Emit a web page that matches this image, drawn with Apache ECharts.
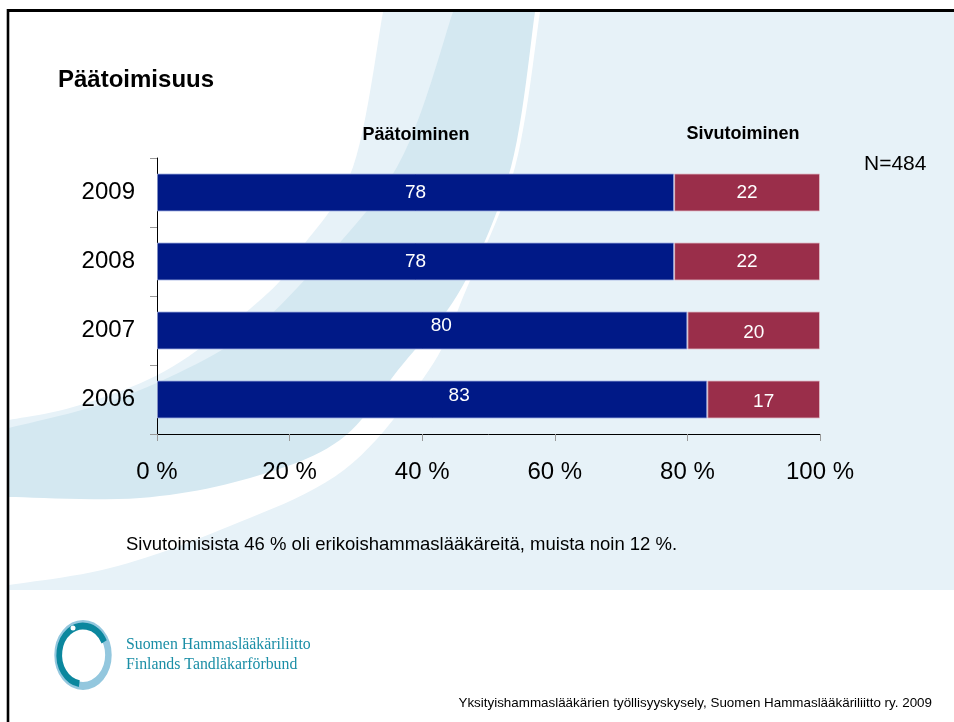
<!DOCTYPE html>
<html>
<head>
<meta charset="utf-8">
<script src="https://cdn.jsdelivr.net/npm/echarts@6/dist/echarts.min.js"></script>
<style>
  html, body { margin: 0; padding: 0; background: #fff; }
  #chart { width: 954px; height: 722px; }
</style>
</head>
<body>
<div id="chart"></div>
<script>
// data
const years = ['2006', '2007', '2008', '2009'];
const paatoiminen = [83, 80, 78, 78];   // full-time %
const sivutoiminen = [17, 20, 22, 22];  // part-time %
const seriesNames = ['Päätoiminen', 'Sivutoiminen'];
const xTickStep = 20;

// the slide's value labels sit a little off-centre on some bars
const fullLabelShift = [[27, -4], [19, -5], [0, 0], [0, 0]];
const partLabelShift = [[0, 2], [0, 2], [0, 0], [0, 0]];

// background swooshes (decoration only), as smooth curves through a few points
function catmull(pts, steps) {
  const out = [];
  for (let i = 0; i < pts.length - 1; i++) {
    const p0 = pts[i - 1] || pts[i], p1 = pts[i], p2 = pts[i + 1], p3 = pts[i + 2] || pts[i + 1];
    for (let s = 0; s < steps; s++) {
      const t = s / steps, t2 = t * t, t3 = t2 * t;
      const f = (a, b, c, d) => 0.5 * ((2 * b) + (-a + c) * t + (2 * a - 5 * b + 4 * c - d) * t2 + (-a + 3 * b - 3 * c + d) * t3);
      out.push([f(p0[0], p1[0], p2[0], p3[0]), f(p0[1], p1[1], p2[1], p3[1])]);
    }
  }
  out.push(pts[pts.length - 1]);
  return out;
}
function region(curve, fill) {
  const pts = [[9, 12]].concat(catmull(curve, 12));
  return { type: 'polygon', silent: true, z: -10, shape: { points: pts }, style: { fill: fill } };
}
const curveOut = [[540, 12], [515, 167], [466, 290], [429, 370], [344, 470], [220, 530], [110, 568], [9, 585]];
const curveDisc = [[535, 12], [511, 167], [462, 287], [398, 370], [340, 440], [250, 478], [140, 498], [9, 497]];
const curveStripIn = [[453, 12], [397, 167], [298, 287], [230, 345], [120, 398], [9, 428]];
const curveStripOut = [[383, 12], [353, 167], [300, 250], [268, 293], [172, 367], [80, 405], [9, 420]];

const sans = 'Liberation Sans, Arial, sans-serif';
const serif = 'Liberation Serif, Times New Roman, serif';

function withShift(values, shifts) {
  return values.map((v, i) => ({ value: v, label: { offset: shifts[i] } }));
}

const chart = echarts.init(document.getElementById('chart'));
const option = {
  animation: false,
  textStyle: { fontFamily: sans },
  title: {
    text: 'Päätoimisuus',
    left: 58,
    top: 68,
    padding: 0,
    textStyle: { fontSize: 24, fontWeight: 'bold', color: '#000' }
  },
  grid: { left: 157, right: 134, top: 158, bottom: 288 },
  xAxis: {
    type: 'value',
    min: 0,
    max: 100,
    interval: xTickStep,
    axisLine: { show: true, lineStyle: { color: '#000', width: 1 } },
    axisTick: { show: true, length: 7, lineStyle: { color: '#999' } },
    splitLine: { show: false },
    axisLabel: { formatter: '{value} %', fontSize: 24, color: '#000', margin: 26 }
  },
  yAxis: {
    type: 'category',
    data: years,
    axisLine: { show: true, lineStyle: { color: '#000', width: 1 } },
    axisTick: { show: true, length: 7, lineStyle: { color: '#999' } },
    axisLabel: { fontSize: 24, color: '#000', margin: 22 }
  },
  series: [
    {
      name: seriesNames[0],
      type: 'bar',
      stack: 'total',
      barWidth: 38,
      data: withShift(paatoiminen, fullLabelShift),
      itemStyle: { color: '#001987', borderColor: 'rgba(160,175,225,0.8)', borderWidth: 1 },
      label: { show: true, position: 'inside', color: '#fff', fontSize: 19 }
    },
    {
      name: seriesNames[1],
      type: 'bar',
      stack: 'total',
      barWidth: 38,
      data: withShift(sivutoiminen, partLabelShift),
      itemStyle: { color: '#9a2e4a', borderColor: 'rgba(225,190,200,0.8)', borderWidth: 1 },
      label: { show: true, position: 'inside', color: '#fff', fontSize: 19 }
    }
  ],
  graphic: [
    // slide background
    { type: 'rect', silent: true, z: -10, shape: { x: 9, y: 12, width: 945, height: 578 }, style: { fill: '#e7f2f8' } },
    region(curveOut, '#ffffff'),
    region(curveDisc, '#d4e8f1'),
    region(curveStripIn, '#e7f2f8'),
    region(curveStripOut, '#ffffff'),
    // slide frame
    { type: 'line', silent: true, z: 5, shape: { x1: 7, y1: 10.5, x2: 954, y2: 10.5 }, style: { stroke: '#000', lineWidth: 3 } },
    { type: 'line', silent: true, z: 5, shape: { x1: 8, y1: 9, x2: 8, y2: 722 }, style: { stroke: '#000', lineWidth: 2.6 } },
    // column headers
    { type: 'text', x: 416, y: 135, style: { text: seriesNames[0], fontSize: 18, fontWeight: 'bold', fill: '#000', align: 'center', verticalAlign: 'middle', fontFamily: sans } },
    { type: 'text', x: 743, y: 134, style: { text: seriesNames[1], fontSize: 18, fontWeight: 'bold', fill: '#000', align: 'center', verticalAlign: 'middle', fontFamily: sans } },
    { type: 'text', x: 864, y: 164, style: { text: 'N=484', fontSize: 21, fill: '#000', align: 'left', verticalAlign: 'middle', fontFamily: sans } },
    // footnote
    { type: 'text', x: 126, y: 545, style: { text: 'Sivutoimisista 46 % oli erikoishammaslääkäreitä, muista noin 12 %.', fontSize: 18.5, fill: '#000', align: 'left', verticalAlign: 'middle', fontFamily: sans } },
    { type: 'text', x: 932, y: 703, style: { text: 'Yksityishammaslääkärien työllisyyskysely, Suomen Hammaslääkäriliitto ry. 2009', fontSize: 13.4, fill: '#000', align: 'right', verticalAlign: 'middle', fontFamily: sans } },
    // logo
    { type: 'circle', silent: true, x: 83, y: 655, scaleX: 0.82, scaleY: 1, shape: { cx: 0, cy: 0, r: 31 }, style: { fill: 'none', stroke: '#93c7de', lineWidth: 8 } },
    { type: 'arc', silent: true, x: 83, y: 655, scaleX: 0.82, scaleY: 1, shape: { cx: 0, cy: 0, r: 29, startAngle: Math.PI * 0.55, endAngle: Math.PI * 1.85, clockwise: true }, style: { stroke: '#0b879e', lineWidth: 7, fill: 'none' } },
    { type: 'circle', silent: true, x: 73, y: 628, shape: { cx: 0, cy: 0, r: 2.5 }, style: { fill: '#fff' } },
    { type: 'text', x: 126, y: 645, style: { text: 'Suomen Hammaslääkäriliitto', fontSize: 15.8, fill: '#1a8ea6', align: 'left', verticalAlign: 'middle', fontFamily: serif } },
    { type: 'text', x: 126, y: 665, style: { text: 'Finlands Tandläkarförbund', fontSize: 15.8, fill: '#1a8ea6', align: 'left', verticalAlign: 'middle', fontFamily: serif } }
  ]
};
chart.setOption(option);
</script>
</body>
</html>
